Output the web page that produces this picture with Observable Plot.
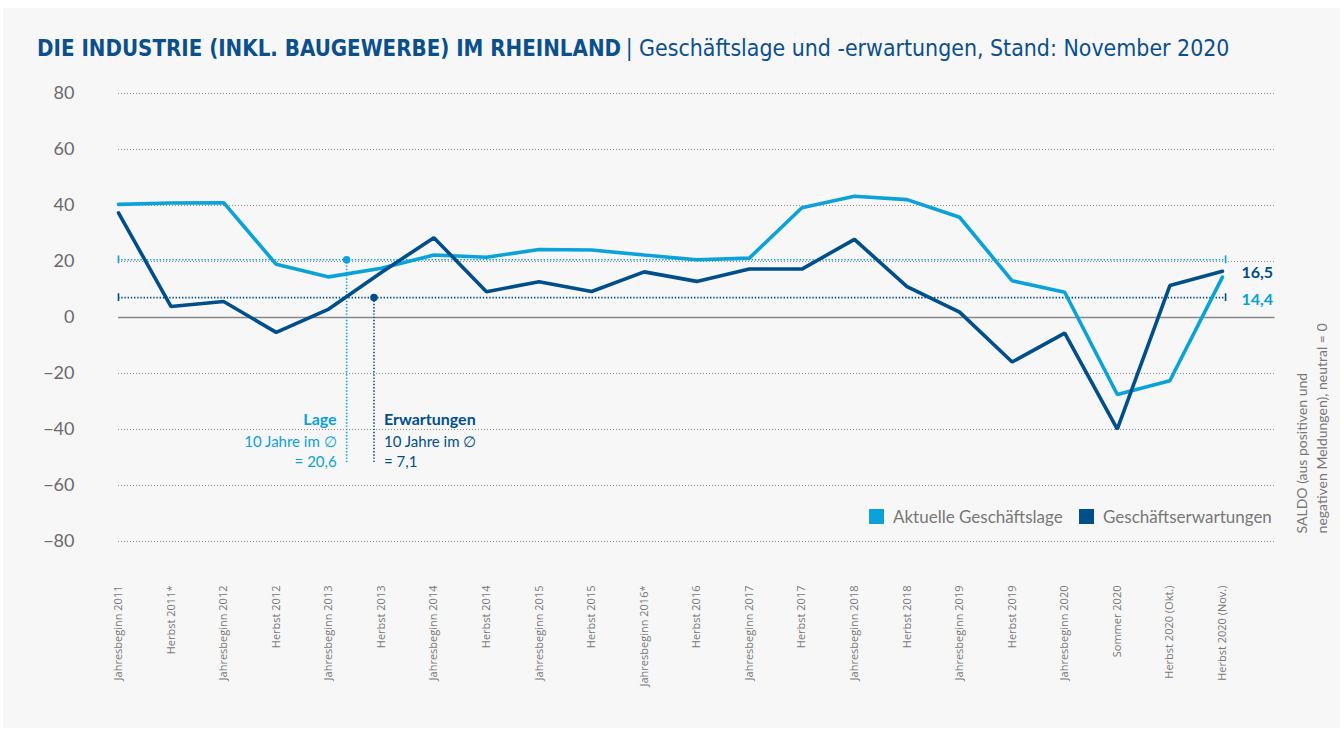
<!DOCTYPE html>
<html>
<head>
<meta charset="utf-8">
<script src="https://cdn.jsdelivr.net/npm/d3@7"></script>
<script src="https://cdn.jsdelivr.net/npm/@observablehq/plot@0.6"></script>
<style>
  body { margin:0; background:#ffffff; }
  #wrap { position:relative; width:1344px; height:731px; overflow:hidden; }
  #panel { position:absolute; left:3px; top:8px; width:1337px; height:720px; background:#f7f7f7; }
  #title { position:absolute; left:37px; top:35px; white-space:nowrap; color:#0b4f8c;
           font-family:"Liberation Sans Narrow","DejaVu Sans Condensed",sans-serif; }
  #title b { font-weight:700; font-size:22.1px; }
  #title span { font-weight:400; font-size:22.9px; }
  #chart { position:absolute; left:0; top:80px; }
  .leg { position:absolute; top:506px; font-family:Lato,"Open Sans",sans-serif; font-size:17px; color:#777; white-space:nowrap; }
  .sw { position:absolute; top:509px; width:15px; height:15px; }
</style>
</head>
<body>
<div id="wrap">
  <div id="panel"></div>
  <div id="title"><b>DIE INDUSTRIE (INKL. BAUGEWERBE) IM RHEINLAND</b> <span>| Geschäftslage und -erwartungen, Stand: November 2020</span></div>
  <div id="chart"></div>
  <div class="sw" style="left:869px;background:#0aa2d9"></div>
  <div class="leg" style="left:893px">Aktuelle Geschäftslage</div>
  <div class="sw" style="left:1079px;background:#004f8b"></div>
  <div class="leg" style="left:1103px">Geschäftserwartungen</div>
</div>
<script>
const labels = ["Jahresbeginn 2011","Herbst 2011*","Jahresbeginn 2012","Herbst 2012","Jahresbeginn 2013","Herbst 2013","Jahresbeginn 2014","Herbst 2014","Jahresbeginn 2015","Herbst 2015","Jahresbeginn 2016*","Herbst 2016","Jahresbeginn 2017","Herbst 2017","Jahresbeginn 2018","Herbst 2018","Jahresbeginn 2019","Herbst 2019","Jahresbeginn 2020","Sommer 2020","Herbst 2020 (Okt.)","Herbst 2020 (Nov.)"];
const lage = [40.4, 40.9, 41.0, 19.0, 14.5, 17.6, 22.3, 21.5, 24.3, 24.1, 22.3, 20.6, 21.2, 39.2, 43.3, 42.1, 35.8, 13.1, 9.0, -27.5, -22.6, 14.4];
const erwartungen = [37.4, 3.9, 5.7, -5.3, 3.0, 16.1, 28.5, 9.2, 12.8, 9.3, 16.3, 12.9, 17.3, 17.3, 27.9, 11.0, 1.9, -15.9, -5.6, -39.9, 11.4, 16.5];
const yTicks = [-80, -60, -40, -20, 0, 20, 40, 60, 80];
const meanLage = 20.6;
const meanErw = 7.1;

const LIGHT = "#0aa2d9", DARK = "#004f8b";
const lageData = lage.map((v, i) => ({i, v}));
const erwData = erwartungen.map((v, i) => ({i, v}));
const last = labels.length - 1;
const meanEnd = last + 0.06;
const xLage = 4.34, xErw = 4.86, vBottom = -51.8;

const chart = Plot.plot({
  width: 1344, height: 640,
  marginLeft: 118, marginRight: 69.5, marginTop: 13, marginBottom: 179,
  style: {background: "transparent", fontFamily: "Lato, 'Open Sans', sans-serif", overflow: "visible"},
  x: {type: "linear", domain: [0, last + 1]},
  y: {domain: [-80, 80]},
  marks: [
    Plot.ruleY(yTicks.filter(d => d !== 0), {x1: 0, x2: last + 1, stroke: "#8a8a8a", strokeWidth: 1, strokeDasharray: "1,2"}),
    Plot.ruleY([0], {x1: 0, x2: last + 1, stroke: "#888", strokeWidth: 1.5}),
    // mean lines
    Plot.ruleY([meanLage], {x1: 0, x2: meanEnd, stroke: LIGHT, strokeWidth: 1.6, strokeDasharray: "1.4,1.8"}),
    Plot.ruleY([meanErw], {x1: 0, x2: meanEnd, stroke: DARK, strokeWidth: 1.6, strokeDasharray: "1.4,1.8"}),
    Plot.ruleX([0, meanEnd], {y1: meanLage - 1.4, y2: meanLage + 1.4, stroke: LIGHT, strokeWidth: 1.6}),
    Plot.ruleX([0, meanEnd], {y1: meanErw - 1.4, y2: meanErw + 1.4, stroke: DARK, strokeWidth: 1.6}),
    Plot.ruleX([xLage], {y1: vBottom, y2: meanLage, stroke: LIGHT, strokeWidth: 1.6, strokeDasharray: "1.4,1.8"}),
    Plot.ruleX([xErw], {y1: vBottom, y2: meanErw, stroke: DARK, strokeWidth: 1.6, strokeDasharray: "1.4,1.8"}),
    Plot.dot([{x: xLage, y: meanLage}], {x: "x", y: "y", r: 3.8, fill: LIGHT}),
    Plot.dot([{x: xErw, y: meanErw}], {x: "x", y: "y", r: 3.8, fill: DARK}),
    // axes
    Plot.axisY({ticks: yTicks, tickSize: 0, tickPadding: 44, fontSize: 18, fill: "#6a6a6a"}),
    Plot.axisX({ticks: d3.range(labels.length), tickFormat: i => labels[i], tickRotate: -90, tickSize: 0, tickPadding: 44, fontSize: 11, fill: "#777", fontFamily: "'Open Sans', sans-serif"}),
    // lines
    Plot.line(lageData, {x: "i", y: "v", stroke: LIGHT, strokeWidth: 3.6, strokeLinejoin: "miter"}),
    Plot.line(erwData, {x: "i", y: "v", stroke: DARK, strokeWidth: 3.6, strokeLinejoin: "miter"}),
    // annotations
    Plot.text(["Lage"], {x: xLage, y: -36.7, dx: -10, textAnchor: "end", fill: LIGHT, fontWeight: "bold", fontSize: 16}),
    Plot.text(["10 Jahre im ∅", "= 20,6"], {x: xLage, y: (d, i) => -44.4 - i * 7.2, dx: -10, textAnchor: "end", fill: LIGHT, fontSize: 15}),
    Plot.text(["Erwartungen"], {x: xErw, y: -36.7, dx: 10, textAnchor: "start", fill: DARK, fontWeight: "bold", fontSize: 16}),
    Plot.text(["10 Jahre im ∅", "= 7,1"], {x: xErw, y: (d, i) => -44.4 - i * 7.2, dx: 10, textAnchor: "start", fill: DARK, fontSize: 15}),
    Plot.text([erwartungen[last]], {x: last, y: erwartungen[last], dx: 19, dy: 1.5, text: d => d3.format(".1f")(d).replace(".", ","), textAnchor: "start", fill: DARK, fontWeight: "bold", fontSize: 16}),
    Plot.text([lage[last]], {x: last, y: lage[last], dx: 19, dy: 23, text: d => d3.format(".1f")(d).replace(".", ","), textAnchor: "start", fill: LIGHT, fontWeight: "bold", fontSize: 16}),
    Plot.text(["SALDO (aus positiven und\nnegativen Meldungen), neutral = 0"], {x: last + 1, y: -77.1, dx: 36, rotate: -90, textAnchor: "start", lineAnchor: "middle", lineHeight: 1.4, fill: "#777", fontSize: 14})
  ]
});
document.getElementById("chart").appendChild(chart);
</script>
</body>
</html>
